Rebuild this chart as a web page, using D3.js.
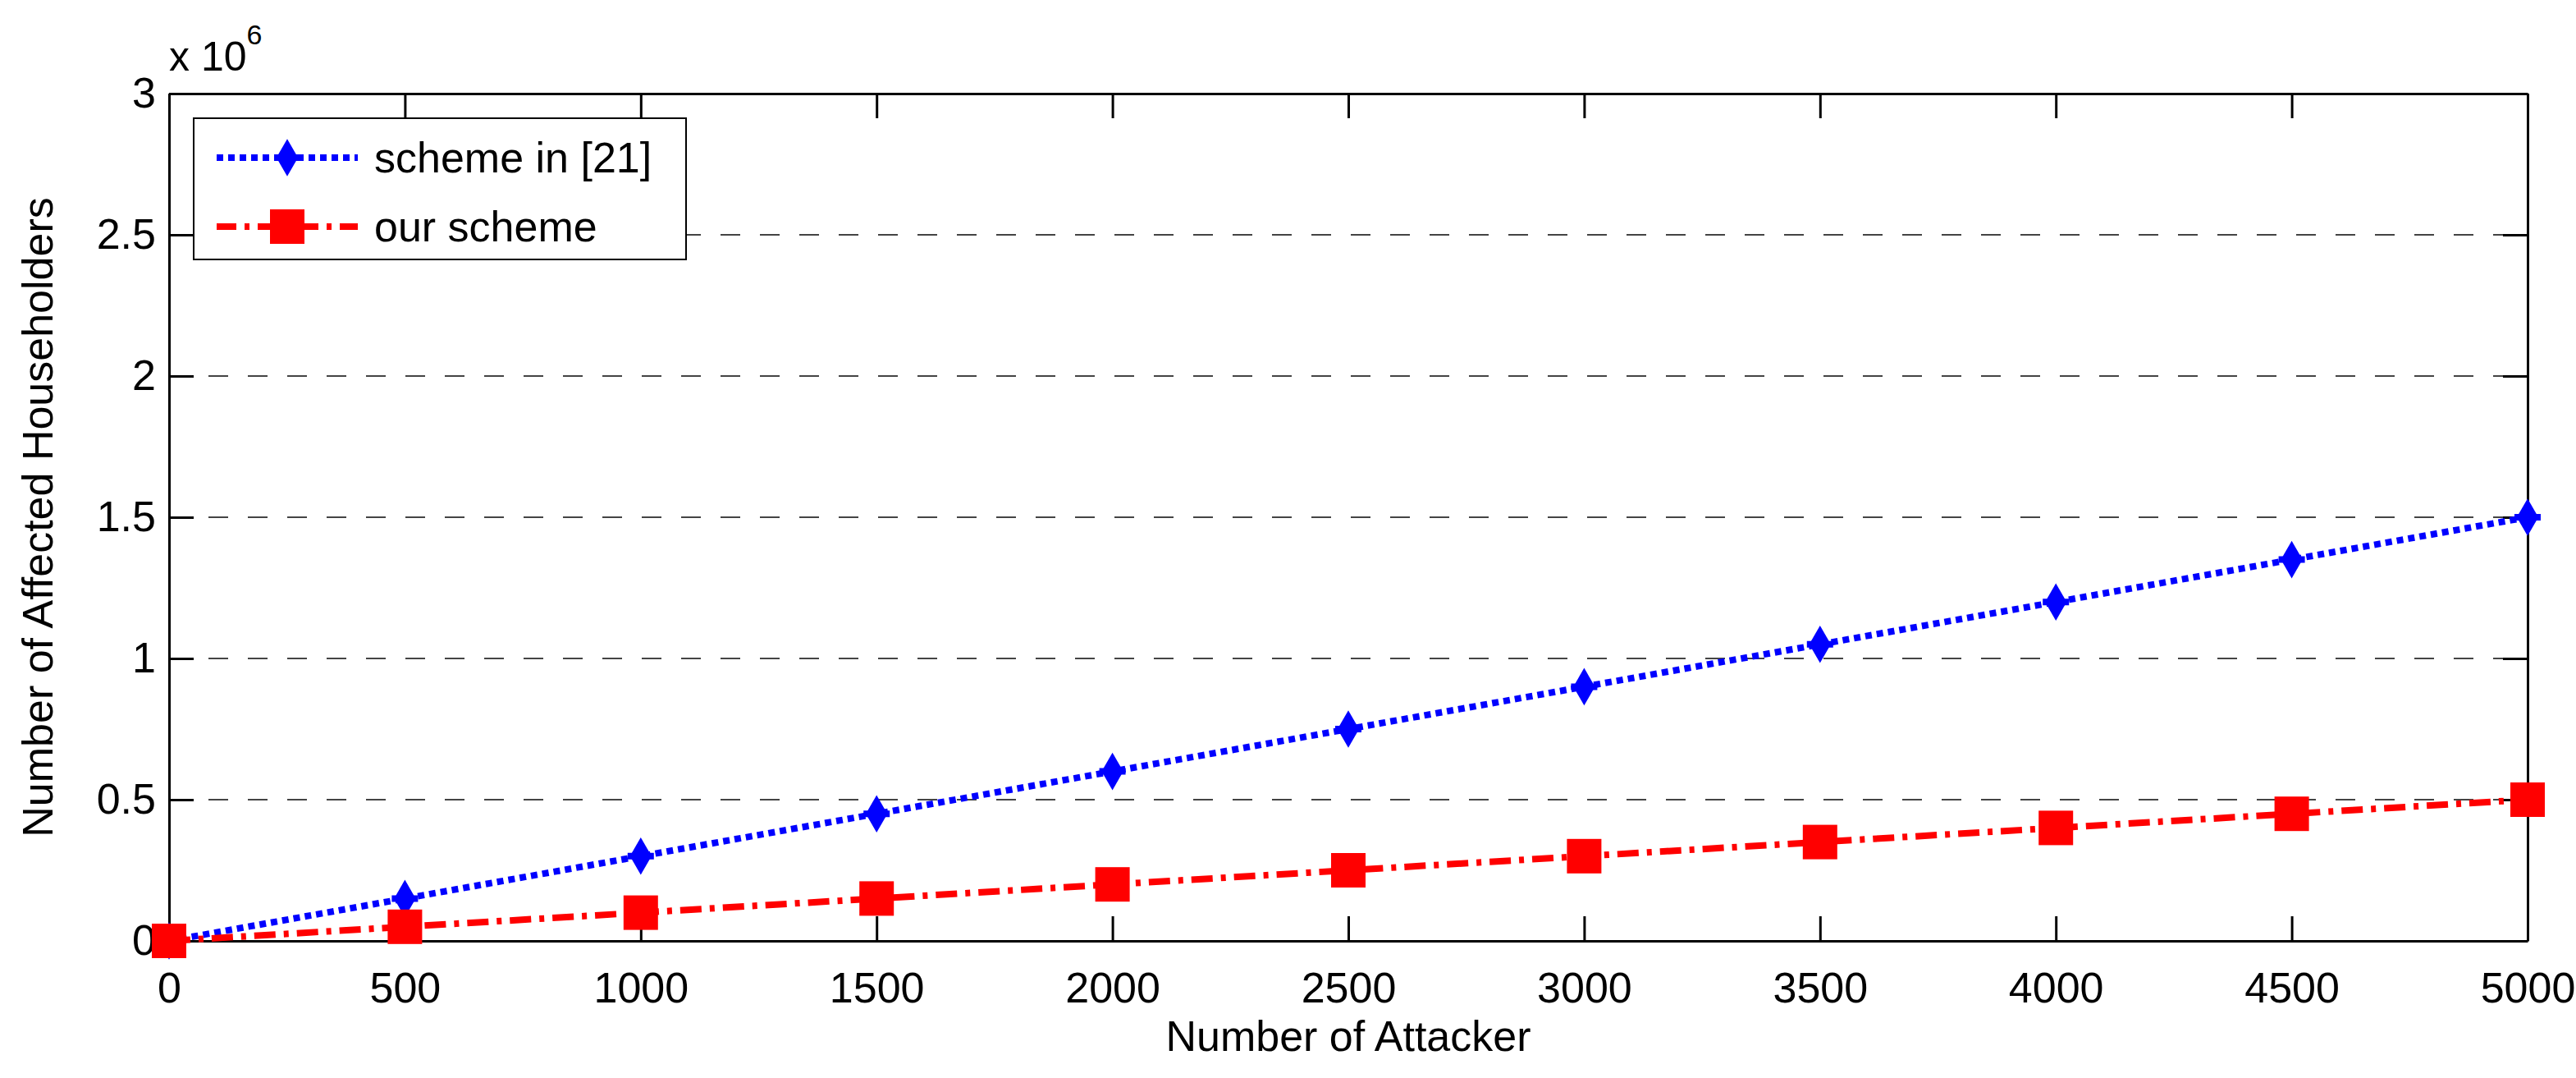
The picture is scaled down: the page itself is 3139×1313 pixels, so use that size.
<!DOCTYPE html>
<html><head><meta charset="utf-8">
<script src="https://cdn.jsdelivr.net/npm/d3@7"></script>
<style>body{margin:0;background:#fff}text{font-family:"Liberation Sans",Arial,sans-serif}</style>
</head><body><svg id="chart" width="3139" height="1313"></svg>
<script>
// chart values
const attackers = [0, 500, 1000, 1500, 2000, 2500, 3000, 3500, 4000, 4500, 5000];
const schemeIn21 = [0, 150000, 300000, 450000, 600000, 750000, 900000, 1050000, 1200000, 1350000, 1500000];
const ourScheme = [0, 50000, 100000, 150000, 200000, 250000, 300000, 350000, 400000, 450000, 500000];
const xTicks = [0, 500, 1000, 1500, 2000, 2500, 3000, 3500, 4000, 4500, 5000];
const yTicks = [0, 0.5e6, 1e6, 1.5e6, 2e6, 2.5e6, 3e6];
const seriesNames = ["scheme in [21]", "our scheme"];

const L = 206, T = 114, R = 3080, B = 1146;
const svg = d3.select("#chart");
const x = d3.scaleLinear().domain([0, 5000]).range([L, R]);
const y = d3.scaleLinear().domain([0, 3e6]).range([B, T]);
const fs = 52;

// horizontal dashed grid
svg.append("g").selectAll("line").data(yTicks.slice(1, -1)).enter().append("line")
  .attr("x1", L).attr("x2", R).attr("y1", d => y(d)).attr("y2", d => y(d))
  .attr("stroke", "#444").attr("stroke-width", 2).attr("stroke-dasharray", "24,24");

// axes with inward ticks, mirrored on top/right
const fmtY = d => d3.format("~g")(d / 1e6);
const axB = svg.append("g").attr("transform", `translate(0,${B})`)
  .call(d3.axisBottom(x).tickValues(xTicks).tickSizeInner(-30).tickSizeOuter(0).tickPadding(38).tickFormat(d3.format("d")));
const axT = svg.append("g").attr("transform", `translate(0,${T})`)
  .call(d3.axisTop(x).tickValues(xTicks).tickSizeInner(-30).tickSizeOuter(0).tickFormat(""));
const axL = svg.append("g").attr("transform", `translate(${L},0)`)
  .call(d3.axisLeft(y).tickValues(yTicks).tickSizeInner(-30).tickSizeOuter(0).tickPadding(16).tickFormat(fmtY));
const axR = svg.append("g").attr("transform", `translate(${R},0)`)
  .call(d3.axisRight(y).tickValues(yTicks).tickSizeInner(-30).tickSizeOuter(0).tickFormat(""));
[axB, axT, axL, axR].forEach(a => {
  a.selectAll("path,line").attr("stroke", "#000").attr("stroke-width", 3);
  a.selectAll("text").attr("font-size", fs).attr("fill", "#000")
    .attr("font-family", "Liberation Sans, Arial");
});
axB.selectAll("text").attr("dy", "0.71em");

// labels
svg.append("text").attr("x", (L + R) / 2).attr("y", 1280).attr("text-anchor", "middle")
  .attr("font-size", fs).text("Number of Attacker");
svg.append("text").attr("transform", `translate(64,${(T + B) / 2}) rotate(-90)`)
  .attr("text-anchor", "middle").attr("font-size", fs).text("Number of Affected Householders");
const ex = svg.append("text").attr("x", 206).attr("y", 86).attr("font-size", fs - 2);
ex.append("tspan").text("x 10");
ex.append("tspan").attr("dy", -32).attr("font-size", 34).text("6");

const line = d3.line().x((d, i) => x(attackers[i])).y(d => y(d));
const diamond = d3.symbol().type(d3.symbolDiamond).size(600);

function blueMarker(g, cx, cy) {
  g.append("path").attr("d", diamond).attr("transform", `translate(${cx},${cy})`).attr("fill", "blue");
  g.append("line").attr("x1", cx - 16).attr("x2", cx + 16).attr("y1", cy).attr("y2", cy).attr("stroke", "blue").attr("stroke-width", 8);
  g.append("line").attr("x1", cx).attr("x2", cx).attr("y1", cy - 18).attr("y2", cy + 18).attr("stroke", "blue").attr("stroke-width", 4);
}
function redMarker(g, cx, cy) {
  g.append("rect").attr("x", cx - 21).attr("y", cy - 21).attr("width", 42).attr("height", 42).attr("fill", "red");
}

svg.append("path").datum(schemeIn21).attr("d", line).attr("fill", "none")
  .attr("stroke", "blue").attr("stroke-width", 8).attr("stroke-dasharray", "8,6");
svg.append("path").datum(ourScheme).attr("d", line).attr("fill", "none")
  .attr("stroke", "red").attr("stroke-width", 8).attr("stroke-dasharray", "26,10,6,10");
const mk = svg.append("g");
schemeIn21.forEach((v, i) => blueMarker(mk, x(attackers[i]), y(v)));
ourScheme.forEach((v, i) => redMarker(mk, x(attackers[i]), y(v)));

// legend
const lg = svg.append("g");
lg.append("rect").attr("x", 236).attr("y", 144).attr("width", 600).attr("height", 172)
  .attr("fill", "#fff").attr("stroke", "#000").attr("stroke-width", 2);
const ly = [192, 276];
lg.append("line").attr("x1", 264).attr("x2", 436).attr("y1", ly[0]).attr("y2", ly[0])
  .attr("stroke", "blue").attr("stroke-width", 8).attr("stroke-dasharray", "8,6");
blueMarker(lg, 350, ly[0]);
lg.append("line").attr("x1", 264).attr("x2", 436).attr("y1", ly[1]).attr("y2", ly[1])
  .attr("stroke", "red").attr("stroke-width", 8).attr("stroke-dasharray", "24,10,6,10");
redMarker(lg, 350, ly[1]);
seriesNames.forEach((n, i) => lg.append("text").attr("x", 456).attr("y", ly[i]).attr("dy", "0.35em")
  .attr("font-size", fs).text(n));
</script></body></html>
